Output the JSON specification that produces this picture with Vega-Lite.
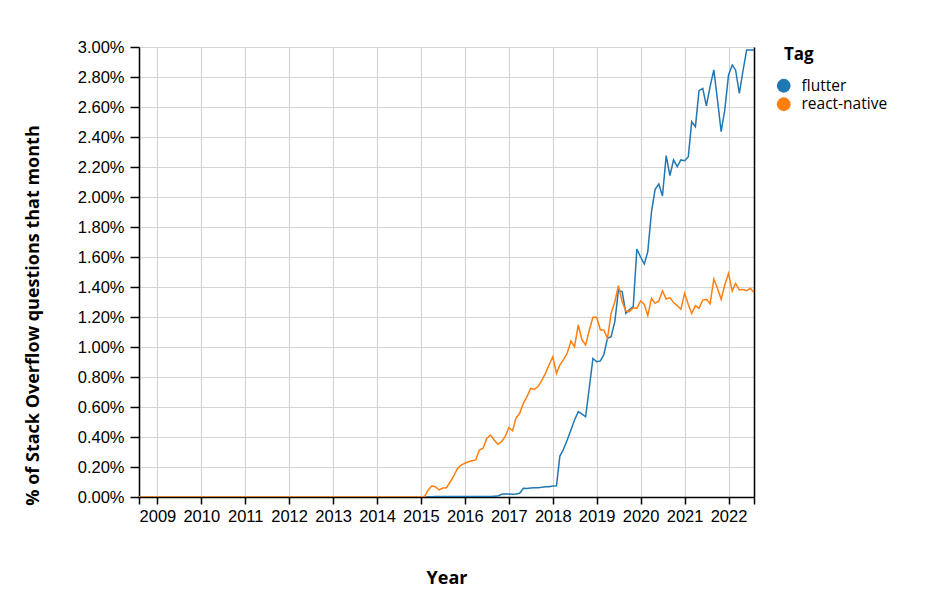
{
  "$schema": "https://vega.github.io/schema/vega-lite/v6.json",
  "width": 615,
  "height": 450,
  "padding": {"left": 24, "top": 39, "right": 5, "bottom": 5},
  "data": {
    "format": {"parse": {"month": "date:'%Y-%m'"}},
    "values": [
      {"month": "2008-08", "flutter": 0, "react-native": 0},
      {"month": "2008-09", "flutter": 0, "react-native": 0},
      {"month": "2008-10", "flutter": 0, "react-native": 0},
      {"month": "2008-11", "flutter": 0, "react-native": 0},
      {"month": "2008-12", "flutter": 0, "react-native": 0},
      {"month": "2009-01", "flutter": 0, "react-native": 0},
      {"month": "2009-02", "flutter": 0, "react-native": 0},
      {"month": "2009-03", "flutter": 0, "react-native": 0},
      {"month": "2009-04", "flutter": 0, "react-native": 0},
      {"month": "2009-05", "flutter": 0, "react-native": 0},
      {"month": "2009-06", "flutter": 0, "react-native": 0},
      {"month": "2009-07", "flutter": 0, "react-native": 0},
      {"month": "2009-08", "flutter": 0, "react-native": 0},
      {"month": "2009-09", "flutter": 0, "react-native": 0},
      {"month": "2009-10", "flutter": 0, "react-native": 0},
      {"month": "2009-11", "flutter": 0, "react-native": 0},
      {"month": "2009-12", "flutter": 0, "react-native": 0},
      {"month": "2010-01", "flutter": 0, "react-native": 0},
      {"month": "2010-02", "flutter": 0, "react-native": 0},
      {"month": "2010-03", "flutter": 0, "react-native": 0},
      {"month": "2010-04", "flutter": 0, "react-native": 0},
      {"month": "2010-05", "flutter": 0, "react-native": 0},
      {"month": "2010-06", "flutter": 0, "react-native": 0},
      {"month": "2010-07", "flutter": 0, "react-native": 0},
      {"month": "2010-08", "flutter": 0, "react-native": 0},
      {"month": "2010-09", "flutter": 0, "react-native": 0},
      {"month": "2010-10", "flutter": 0, "react-native": 0},
      {"month": "2010-11", "flutter": 0, "react-native": 0},
      {"month": "2010-12", "flutter": 0, "react-native": 0},
      {"month": "2011-01", "flutter": 0, "react-native": 0},
      {"month": "2011-02", "flutter": 0, "react-native": 0},
      {"month": "2011-03", "flutter": 0, "react-native": 0},
      {"month": "2011-04", "flutter": 0, "react-native": 0},
      {"month": "2011-05", "flutter": 0, "react-native": 0},
      {"month": "2011-06", "flutter": 0, "react-native": 0},
      {"month": "2011-07", "flutter": 0, "react-native": 0},
      {"month": "2011-08", "flutter": 0, "react-native": 0},
      {"month": "2011-09", "flutter": 0, "react-native": 0},
      {"month": "2011-10", "flutter": 0, "react-native": 0},
      {"month": "2011-11", "flutter": 0, "react-native": 0},
      {"month": "2011-12", "flutter": 0, "react-native": 0},
      {"month": "2012-01", "flutter": 0, "react-native": 0},
      {"month": "2012-02", "flutter": 0, "react-native": 0},
      {"month": "2012-03", "flutter": 0, "react-native": 0},
      {"month": "2012-04", "flutter": 0, "react-native": 0},
      {"month": "2012-05", "flutter": 0, "react-native": 0},
      {"month": "2012-06", "flutter": 0, "react-native": 0},
      {"month": "2012-07", "flutter": 0, "react-native": 0},
      {"month": "2012-08", "flutter": 0, "react-native": 0},
      {"month": "2012-09", "flutter": 0, "react-native": 0},
      {"month": "2012-10", "flutter": 0, "react-native": 0},
      {"month": "2012-11", "flutter": 0, "react-native": 0},
      {"month": "2012-12", "flutter": 0, "react-native": 0},
      {"month": "2013-01", "flutter": 0, "react-native": 0},
      {"month": "2013-02", "flutter": 0, "react-native": 0},
      {"month": "2013-03", "flutter": 0, "react-native": 0},
      {"month": "2013-04", "flutter": 0, "react-native": 0},
      {"month": "2013-05", "flutter": 0, "react-native": 0},
      {"month": "2013-06", "flutter": 0, "react-native": 0},
      {"month": "2013-07", "flutter": 0, "react-native": 0},
      {"month": "2013-08", "flutter": 0, "react-native": 0},
      {"month": "2013-09", "flutter": 0, "react-native": 0},
      {"month": "2013-10", "flutter": 0, "react-native": 0},
      {"month": "2013-11", "flutter": 0, "react-native": 0},
      {"month": "2013-12", "flutter": 0, "react-native": 0},
      {"month": "2014-01", "flutter": 0, "react-native": 0},
      {"month": "2014-02", "flutter": 0, "react-native": 0},
      {"month": "2014-03", "flutter": 0, "react-native": 0},
      {"month": "2014-04", "flutter": 0, "react-native": 0},
      {"month": "2014-05", "flutter": 0, "react-native": 0},
      {"month": "2014-06", "flutter": 0, "react-native": 0},
      {"month": "2014-07", "flutter": 0, "react-native": 0},
      {"month": "2014-08", "flutter": 0, "react-native": 0},
      {"month": "2014-09", "flutter": 0, "react-native": 0},
      {"month": "2014-10", "flutter": 0, "react-native": 0},
      {"month": "2014-11", "flutter": 0, "react-native": 0},
      {"month": "2014-12", "flutter": 0, "react-native": 0},
      {"month": "2015-01", "flutter": 0, "react-native": 0},
      {"month": "2015-02", "flutter": 0, "react-native": 0.005},
      {"month": "2015-03", "flutter": 0.002, "react-native": 0.045},
      {"month": "2015-04", "flutter": 0.002, "react-native": 0.073},
      {"month": "2015-05", "flutter": 0.003, "react-native": 0.069},
      {"month": "2015-06", "flutter": 0.003, "react-native": 0.047},
      {"month": "2015-07", "flutter": 0.003, "react-native": 0.06},
      {"month": "2015-08", "flutter": 0.003, "react-native": 0.062},
      {"month": "2015-09", "flutter": 0.003, "react-native": 0.1},
      {"month": "2015-10", "flutter": 0.003, "react-native": 0.14},
      {"month": "2015-11", "flutter": 0.003, "react-native": 0.19},
      {"month": "2015-12", "flutter": 0.003, "react-native": 0.213},
      {"month": "2016-01", "flutter": 0.003, "react-native": 0.225},
      {"month": "2016-02", "flutter": 0.003, "react-native": 0.235},
      {"month": "2016-03", "flutter": 0.003, "react-native": 0.242},
      {"month": "2016-04", "flutter": 0.003, "react-native": 0.247},
      {"month": "2016-05", "flutter": 0.004, "react-native": 0.313},
      {"month": "2016-06", "flutter": 0.004, "react-native": 0.325},
      {"month": "2016-07", "flutter": 0.004, "react-native": 0.39},
      {"month": "2016-08", "flutter": 0.004, "react-native": 0.413},
      {"month": "2016-09", "flutter": 0.005, "react-native": 0.38},
      {"month": "2016-10", "flutter": 0.006, "react-native": 0.351},
      {"month": "2016-11", "flutter": 0.018, "react-native": 0.369},
      {"month": "2016-12", "flutter": 0.02, "react-native": 0.402},
      {"month": "2017-01", "flutter": 0.02, "react-native": 0.464},
      {"month": "2017-02", "flutter": 0.018, "react-native": 0.442},
      {"month": "2017-03", "flutter": 0.02, "react-native": 0.524},
      {"month": "2017-04", "flutter": 0.025, "react-native": 0.558},
      {"month": "2017-05", "flutter": 0.058, "react-native": 0.624},
      {"month": "2017-06", "flutter": 0.057, "react-native": 0.669},
      {"month": "2017-07", "flutter": 0.06, "react-native": 0.724},
      {"month": "2017-08", "flutter": 0.062, "react-native": 0.718},
      {"month": "2017-09", "flutter": 0.062, "react-native": 0.736},
      {"month": "2017-10", "flutter": 0.065, "react-native": 0.776},
      {"month": "2017-11", "flutter": 0.069, "react-native": 0.824},
      {"month": "2017-12", "flutter": 0.068, "react-native": 0.88},
      {"month": "2018-01", "flutter": 0.073, "react-native": 0.935},
      {"month": "2018-02", "flutter": 0.075, "react-native": 0.824},
      {"month": "2018-03", "flutter": 0.273, "react-native": 0.88},
      {"month": "2018-04", "flutter": 0.32, "react-native": 0.918},
      {"month": "2018-05", "flutter": 0.38, "react-native": 0.958},
      {"month": "2018-06", "flutter": 0.447, "react-native": 1.04},
      {"month": "2018-07", "flutter": 0.513, "react-native": 1.002},
      {"month": "2018-08", "flutter": 0.569, "react-native": 1.147},
      {"month": "2018-09", "flutter": 0.553, "react-native": 1.047},
      {"month": "2018-10", "flutter": 0.535, "react-native": 1.013},
      {"month": "2018-11", "flutter": 0.73, "react-native": 1.113},
      {"month": "2018-12", "flutter": 0.924, "react-native": 1.198},
      {"month": "2019-01", "flutter": 0.902, "react-native": 1.198},
      {"month": "2019-02", "flutter": 0.907, "react-native": 1.113},
      {"month": "2019-03", "flutter": 0.947, "react-native": 1.113},
      {"month": "2019-04", "flutter": 1.058, "react-native": 1.058},
      {"month": "2019-05", "flutter": 1.069, "react-native": 1.224},
      {"month": "2019-06", "flutter": 1.169, "react-native": 1.302},
      {"month": "2019-07", "flutter": 1.38, "react-native": 1.409},
      {"month": "2019-08", "flutter": 1.369, "react-native": 1.302},
      {"month": "2019-09", "flutter": 1.224, "react-native": 1.24},
      {"month": "2019-10", "flutter": 1.25, "react-native": 1.236},
      {"month": "2019-11", "flutter": 1.269, "react-native": 1.262},
      {"month": "2019-12", "flutter": 1.653, "react-native": 1.258},
      {"month": "2020-01", "flutter": 1.6, "react-native": 1.307},
      {"month": "2020-02", "flutter": 1.553, "react-native": 1.284},
      {"month": "2020-03", "flutter": 1.636, "react-native": 1.209},
      {"month": "2020-04", "flutter": 1.902, "react-native": 1.324},
      {"month": "2020-05", "flutter": 2.051, "react-native": 1.291},
      {"month": "2020-06", "flutter": 2.087, "react-native": 1.307},
      {"month": "2020-07", "flutter": 2.007, "react-native": 1.373},
      {"month": "2020-08", "flutter": 2.276, "react-native": 1.32},
      {"month": "2020-09", "flutter": 2.142, "react-native": 1.329},
      {"month": "2020-10", "flutter": 2.247, "react-native": 1.296},
      {"month": "2020-11", "flutter": 2.202, "react-native": 1.276},
      {"month": "2020-12", "flutter": 2.247, "react-native": 1.251},
      {"month": "2021-01", "flutter": 2.242, "react-native": 1.358},
      {"month": "2021-02", "flutter": 2.269, "react-native": 1.284},
      {"month": "2021-03", "flutter": 2.502, "react-native": 1.224},
      {"month": "2021-04", "flutter": 2.469, "react-native": 1.276},
      {"month": "2021-05", "flutter": 2.709, "react-native": 1.258},
      {"month": "2021-06", "flutter": 2.724, "react-native": 1.313},
      {"month": "2021-07", "flutter": 2.607, "react-native": 1.318},
      {"month": "2021-08", "flutter": 2.736, "react-native": 1.289},
      {"month": "2021-09", "flutter": 2.847, "react-native": 1.453},
      {"month": "2021-10", "flutter": 2.65, "react-native": 1.391},
      {"month": "2021-11", "flutter": 2.436, "react-native": 1.318},
      {"month": "2021-12", "flutter": 2.58, "react-native": 1.413},
      {"month": "2022-01", "flutter": 2.813, "react-native": 1.491},
      {"month": "2022-02", "flutter": 2.88, "react-native": 1.373},
      {"month": "2022-03", "flutter": 2.847, "react-native": 1.424},
      {"month": "2022-04", "flutter": 2.69, "react-native": 1.38},
      {"month": "2022-05", "flutter": 2.84, "react-native": 1.384},
      {"month": "2022-06", "flutter": 2.98, "react-native": 1.375},
      {"month": "2022-07", "flutter": 2.98, "react-native": 1.391},
      {"month": "2022-08", "flutter": 2.98, "react-native": 1.364}
    ]
  },
  "transform": [
    {"fold": ["flutter", "react-native"], "as": ["Tag", "pct"]}
  ],
  "layer": [
    {
      "mark": {"type": "line", "strokeWidth": 1.5, "clip": true},
      "encoding": {
        "x": {
          "field": "month",
          "type": "temporal",
          "scale": {
            "domain": [
              {"year": 2008, "month": 8, "date": 1},
              {"year": 2022, "month": 8, "date": 1}
            ],
            "nice": false
          },
          "axis": {
            "title": "Year",
            "values": [
              {"year": 2008, "month": 8, "date": 1},
              {"year": 2009, "month": 1, "date": 1},
              {"year": 2010, "month": 1, "date": 1},
              {"year": 2011, "month": 1, "date": 1},
              {"year": 2012, "month": 1, "date": 1},
              {"year": 2013, "month": 1, "date": 1},
              {"year": 2014, "month": 1, "date": 1},
              {"year": 2015, "month": 1, "date": 1},
              {"year": 2016, "month": 1, "date": 1},
              {"year": 2017, "month": 1, "date": 1},
              {"year": 2018, "month": 1, "date": 1},
              {"year": 2019, "month": 1, "date": 1},
              {"year": 2020, "month": 1, "date": 1},
              {"year": 2021, "month": 1, "date": 1},
              {"year": 2022, "month": 1, "date": 1},
              {"year": 2022, "month": 8, "date": 1}
            ],
            "labelExpr": "month(datum.value) == 0 ? timeFormat(datum.value, '%Y') : ''",
            "labelOverlap": false,
            "labelPadding": 4,
            "tickSize": 7,
            "titlePadding": 45
          }
        },
        "y": {
          "field": "pct",
          "type": "quantitative",
          "scale": {"domain": [0, 3], "nice": false},
          "axis": {
            "title": "% of Stack Overflow questions that month",
            "tickCount": 15,
            "labelExpr": "format(datum.value, '.2f') + '%'",
            "labelPadding": 6,
            "tickSize": 9,
            "titleY": 268,
            "titlePadding": 35
          }
        },
        "color": {
          "field": "Tag",
          "type": "nominal",
          "scale": {"domain": ["flutter", "react-native"], "range": ["#1f77b4", "#ff7f0e"]},
          "legend": {
            "title": "Tag",
            "symbolType": "circle",
            "encode": {
              "title": {"update": {"dx": {"value": 8}}},
              "symbols": {
                "update": {
                  "fill": {"scale": "color", "field": "value"},
                  "fillOpacity": {"value": 1},
                  "strokeWidth": {"value": 0}
                }
              }
            }
          }
        }
      }
    },
    {
      "mark": {"type": "line", "opacity": 0},
      "encoding": {
        "x": {"field": "month", "type": "temporal"},
        "y": {
          "field": "pct",
          "type": "quantitative",
          "axis": {
            "orient": "right",
            "title": null,
            "labels": false,
            "ticks": false,
            "grid": false
          }
        }
      }
    }
  ],
  "resolve": {"axis": {"y": "independent"}},
  "config": {
    "view": {"stroke": null},
    "axis": {
      "labelFont": "Liberation Sans",
      "labelFontSize": 16.5,
      "labelColor": "#000",
      "titleFont": "Open Sans",
      "titleFontSize": 18,
      "titleFontWeight": "bold",
      "titleColor": "#000",
      "domainColor": "#000",
      "domainWidth": 1.5,
      "tickColor": "#000",
      "tickWidth": 1.5,
      "gridColor": "#d4d4d4",
      "gridWidth": 1.2
    },
    "legend": {
      "titleFont": "Open Sans",
      "titleFontSize": 17,
      "titleFontWeight": "bold",
      "titleColor": "#000",
      "titlePadding": 14,
      "labelFont": "Open Sans",
      "labelFontSize": 15.5,
      "labelColor": "#000",
      "symbolSize": 190,
      "labelOffset": 10,
      "rowPadding": 1.5,
      "offset": 22
    }
  }
}
